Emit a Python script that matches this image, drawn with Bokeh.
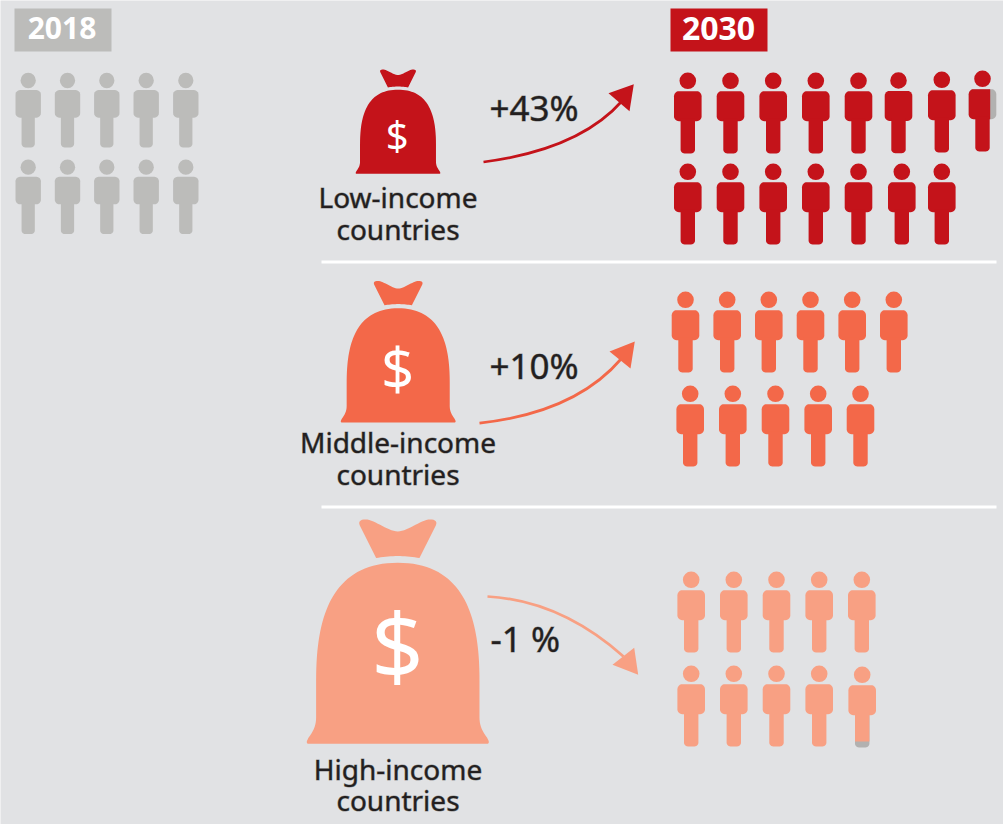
from bokeh.core.properties import value
from bokeh.embed import file_html
from bokeh.models import Range1d
from bokeh.plotting import figure
from bokeh.resources import INLINE
import numpy as np

# ---- chart content -------------------------------------------------------
years = ["2018", "2030"]
categories = ["Low-income countries", "Middle-income countries", "High-income countries"]
change_labels = ["+43%", "+10%", "-1 %"]
people_2018 = 10
people_2030 = [15, 11, 10]

# ---- colours --------------------------------------------------------------
BG = "#e1e2e4"
GREY = "#bcbcba"
SLIVER = "#b2b1b0"
INK = "#231f20"
COLORS = ["#c4131a", "#f36849", "#f8a083"]
FONT = value("Noto Sans")

# ---- layout (reference pixels) ---------------------------------------------
W, H = 1003, 824
p = figure(width=W, height=H, x_range=Range1d(0, W), y_range=Range1d(H, 0),
           output_backend="svg", toolbar_location=None, min_border=0,
           background_fill_color=BG, border_fill_color=BG, outline_line_color=None)
p.xaxis.visible = False
p.yaxis.visible = False
p.grid.visible = False


def bez(a, b, c, d, n=24):
    t = np.linspace(0, 1, n)[:, None]
    a, b, c, d = map(np.array, (a, b, c, d))
    return (1 - t) ** 3 * a + 3 * (1 - t) ** 2 * t * b + 3 * (1 - t) * t ** 2 * c + t ** 3 * d


def rrect(x0, y0, x1, y1, r=(4, 4, 4, 4)):
    """Rounded rect with corner radii (tl, tr, br, bl)."""
    out = []
    corners = [(x0, y0, 180, r[0]), (x1, y0, 270, r[1]), (x1, y1, 0, r[2]), (x0, y1, 90, r[3])]
    signs = [(1, 1), (-1, 1), (-1, -1), (1, -1)]
    for (cx, cy, a0, rad), (sx, sy) in zip(corners, signs):
        a = np.radians(np.linspace(a0, a0 + 90, 7))
        out += [(cx + sx * rad + rad * np.cos(v), cy + sy * rad + rad * np.sin(v)) for v in a]
    return [q[0] for q in out], [q[1] for q in out]


def person(x, y, color, k=1.0, torso_clip=None, leg_clip=None):
    ht, hb, hw = 10.4 * k, 40.4 * k, 13.8 * k
    lw, lb = 7.2 * k, 72.7 * k
    if torso_clip is not None:
        tx, ty = rrect(x - hw, y + ht, x + hw, y + hb, (5, 5, 5, 5))
        p.patch(tx, ty, fill_color=SLIVER, line_color=None)
    if leg_clip is not None:
        tx, ty = rrect(x - lw, y + hb - 3, x + lw, y + lb, (0, 0, 4, 4))
        p.patch(tx, ty, fill_color=SLIVER, line_color=None)
    tr = x + hw if torso_clip is None else torso_clip
    rr = (5 * k, 5 * k, 5 * k, 5 * k) if torso_clip is None else (5 * k, 0, 0, 5 * k)
    tx, ty = rrect(x - hw, y + ht, tr, y + hb, rr)
    p.patch(tx, ty, fill_color=color, line_color=None)
    lbot = y + lb if leg_clip is None else leg_clip
    lr = (0, 0, 4 * k, 4 * k) if leg_clip is None else (0, 0, 0, 0)
    tx, ty = rrect(x - lw, y + hb - 3, x + lw, lbot, lr)
    p.patch(tx, ty, fill_color=color, line_color=None)
    p.circle([x], [y], radius=8.3 * k, fill_color=color, line_color=None)


def bag(cx, bottom, width, color):
    s = width / 542.0
    left = np.vstack([
        [(-270, 0)],
        bez((-270, 0), (-276, 4), (-272, 10), (-268, 18), 8),
        bez((-268, 18), (-252, 40), (-245, 55), (-245, 80), 10),
        [(-245, 190)],
        bez((-245, 190), (-245, 350), (-215, 543), (0, 543), 40),
    ])
    body = np.vstack([left, (left * [-1, 1])[::-1]])
    half = np.vstack([
        bez((0, 563), (20, 563), (45, 561), (65, 557), 10),
        [(114, 655)],
        bez((114, 655), (120, 668), (110, 673), (97, 673), 8),
        bez((97, 673), (70, 673), (30, 637), (0, 637), 16),
    ])
    neck = np.vstack([half, (half * [-1, 1])[::-1]])
    for shape in (body, neck):
        p.patch(cx + shape[:, 0] * s, bottom - shape[:, 1] * s, fill_color=color, line_color=None)


def arrow(start, ctrl, end, head, color):
    p.quadratic([start[0]], [start[1]], [end[0]], [end[1]], [ctrl[0]], [ctrl[1]],
                line_color=color, line_width=2.7)
    p.patch([q[0] for q in head], [q[1] for q in head], fill_color=color, line_color=None)


def label(x, y, text, size, color=INK, style="normal", align="center", outline=None):
    # y is the wanted baseline; the page's text sits about 0.37 em lower than asked for
    p.text([x], [y - 0.37 * size], text=[text], text_font=FONT, text_font_size=f"{size}px", text_color=color,
           text_font_style=style, text_align=align, text_baseline="alphabetic",
           text_outline_color=outline)


# year tags
p.quad(left=[14, 670], right=[111, 767], top=[8, 8], bottom=[51, 51],
       fill_color=[GREY, COLORS[0]], line_color=None)
label(61.5, 39, years[0], 30, "white", "bold")
label(718, 39.5, years[1], 32, "white", "bold")

# separators
for yy in (261.5, 506.5):
    p.line([321, 996], [yy, yy], line_color="white", line_width=3)

# 2018 people
xs_2018 = [27.7, 67, 106.3, 145.7, 185.3]
for i in range(people_2018):
    person(xs_2018[i % 5], [80, 166.7][i // 5], GREY, k=0.92)

# 2030 people
seats = [
    [(687.3, 80.3), (730, 80.3), (772.7, 80.3), (815.3, 80.3), (858, 80.3), (898, 80), (941.3, 79.3), (982, 78.3),
     (687.3, 171.3), (730, 171.3), (772.7, 171.3), (815.3, 171.3), (858, 171.3), (901.3, 171.3), (941.3, 171.3)],
    [(685, 299.3), (726.7, 299.3), (768.3, 299.3), (810, 299.3), (851.7, 299.3), (893.3, 299.3),
     (689.7, 393.3), (732.3, 393.3), (775, 393.3), (817.7, 393.3), (860, 393.3)],
    [(690.7, 579.3), (733.3, 579.3), (776, 579.3), (818.7, 579.3), (861.3, 579.3),
     (690.7, 673.3), (733.3, 673.3), (776, 673.3), (818.7, 673.3), (861.7, 674.3)],
]
for g, n in enumerate(people_2030):
    for j, (x, y) in enumerate(seats[g][:n]):
        clip_t = 989.7 if (g == 0 and j == 7) else None
        clip_l = 741 if (g == 2 and j == n - 1) else None
        person(x, y, COLORS[g], torso_clip=clip_t, leg_clip=clip_l)

# bags
bag(397.5, 173.3, 84, COLORS[0])
bag(397.7, 422, 114, COLORS[1])
bag(397.3, 743.3, 180.7, COLORS[2])

# dollar signs
label(396.8, 149, "$", 40, "white")
label(397, 388, "$", 58, "white")
label(396.8, 677, "$", 92, "white")

# category labels
HALO = "#231f2070"
ly = [(207, 239), (452, 484), (779, 810)]
for c, (a, b) in zip(categories, ly):
    first, second = c.split(" ")
    label(397.5, a, first, 28, outline=HALO)
    label(397.5, b, second, 28, outline=HALO)

# change labels
label(489, 120, change_labels[0], 35, align="left", outline=HALO)
label(489, 377.7, change_labels[1], 35, align="left", outline=HALO)
label(490, 651, change_labels[2], 35, align="left", outline=HALO)

# arrows
arrow((483, 161.5), (579, 149), (622, 100), [(633.3, 83.7), (608, 92.7), (629, 110.7)], COLORS[0])
arrow((479, 422.7), (575, 412), (621, 358), [(634.3, 341), (609, 351), (630, 368)], COLORS[1])
arrow((487, 596), (560, 600), (623, 656), [(637.7, 674.3), (612, 664.3), (633.7, 647.3)], COLORS[2])

open("out.html", "w").write(file_html(p, INLINE))
